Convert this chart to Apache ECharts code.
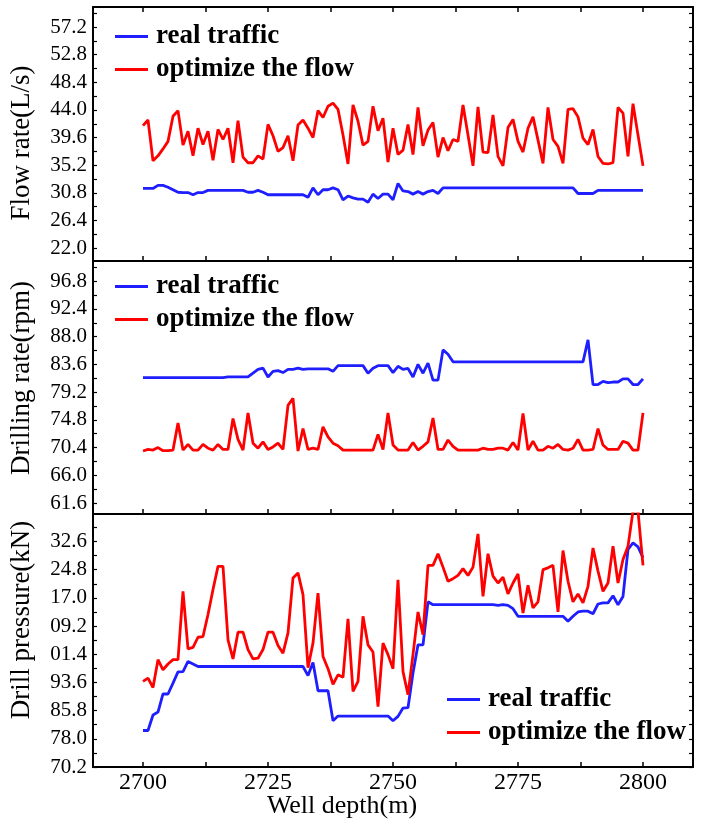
<!DOCTYPE html>
<html><head><meta charset="utf-8">
<script src="https://cdn.jsdelivr.net/npm/echarts@6/dist/echarts.min.js"></script>
<style>html,body{margin:0;padding:0;background:#fff}#c{width:704px;height:825px}</style>
</head><body><div id="c"></div>
<script>
// ---- data ----
const depthStart = 2700, depthEnd = 2800;
const depth = [];
for (let d = depthStart; d <= depthEnd; d++) depth.push(d);

const seriesNames = ['real traffic', 'optimize the flow'];

const flowReal = [31.5,31.5,31.5,32.0,32.0,31.7,31.3,30.9,30.85,30.85,
 30.5,30.85,30.85,31.2,31.2,31.2,31.2,31.2,31.2,31.2,
 31.2,30.9,30.9,31.2,30.9,30.5,30.5,30.5,30.5,30.5,
 30.5,30.5,30.5,30.1,31.6,30.5,31.3,31.3,31.6,31.3,
 29.7,30.3,30.0,29.8,29.8,29.3,30.6,29.9,30.6,30.6,
 29.7,32.3,31.1,31.0,30.6,31.0,30.6,31.0,31.2,30.7,
 31.6,31.6,31.6,31.6,31.6,31.6,31.6,31.6,31.6,31.6,
 31.6,31.6,31.6,31.6,31.6,31.6,31.6,31.6,31.6,31.6,
 31.6,31.6,31.6,31.6,31.6,31.6,31.6,30.7,30.7,30.7,
 30.7,31.2,31.2,31.2,31.2,31.2,31.2,31.2,31.2,31.2,
 31.2];
const flowOpt = [41.5,42.4,35.9,36.7,37.8,39.0,43.0,43.9,38.4,40.6,
 36.7,41.1,38.5,40.6,36.0,40.9,39.3,41.1,35.6,42.3,
 36.5,35.6,35.6,36.7,36.2,41.7,39.9,37.4,38.0,39.9,
 35.9,41.6,42.4,41.1,39.6,43.9,42.8,44.6,45.1,44.1,
 40.0,35.4,44.8,42.2,38.4,39.0,44.6,40.7,42.7,35.7,
 41.1,36.9,37.6,41.7,36.9,44.4,38.3,40.8,42.0,36.5,
 39.6,37.5,39.3,39.0,44.8,40.0,35.1,44.5,37.3,37.2,
 43.2,36.6,35.1,41.2,42.5,39.0,37.3,41.1,42.9,39.2,
 35.5,44.4,39.3,38.2,35.5,44.1,44.2,42.9,39.5,38.5,
 40.9,36.6,35.5,35.4,35.6,44.4,43.5,36.6,45.0,40.0,
 35.1];

const rateReal = [81.5,81.5,81.5,81.5,81.5,81.5,81.5,81.5,81.5,81.5,
 81.5,81.5,81.5,81.5,81.5,81.5,81.5,81.6,81.6,81.6,
 81.6,81.6,82.2,82.8,83.0,81.6,82.5,82.6,82.3,82.8,
 82.8,83.0,82.8,82.9,82.9,82.9,82.9,82.9,82.5,83.4,
 83.4,83.4,83.4,83.4,83.4,82.2,83.0,83.4,83.4,83.4,
 82.3,83.3,82.8,82.95,81.6,83.6,82.2,83.8,81.1,81.1,
 85.9,85.2,84.0,84.0,84.0,84.0,84.0,84.0,84.0,84.0,
 84.0,84.0,84.0,84.0,84.0,84.0,84.0,84.0,84.0,84.0,
 84.0,84.0,84.0,84.0,84.0,84.0,84.0,84.0,84.0,87.5,
 80.4,80.4,80.9,80.7,80.8,80.8,81.3,81.3,80.4,80.4,
 81.3];
const rateOpt = [69.85,70.1,70.0,70.4,69.9,69.9,70.0,74.3,70.0,70.9,
 70.0,70.0,70.9,70.3,70.0,70.9,70.1,70.1,75.0,71.7,
 70.0,75.9,71.1,70.3,71.3,70.1,70.5,71.1,70.1,77.1,
 78.2,69.85,73.4,70.1,70.3,70.1,73.7,72.1,71.1,70.7,
 70.0,70.0,70.0,70.0,70.0,70.0,70.0,72.5,70.1,75.9,
 70.8,70.0,70.0,70.0,71.2,70.0,70.6,71.3,75.1,70.1,
 70.1,71.6,70.6,70.0,70.0,70.0,70.0,70.0,70.3,70.1,
 70.1,70.3,70.3,70.0,71.2,70.0,75.8,70.0,71.4,70.0,
 70.0,70.6,70.3,70.9,70.1,70.0,70.3,71.7,70.0,70.0,
 70.1,73.4,70.8,70.1,70.1,70.1,71.4,71.1,70.0,70.0,
 75.9];

const pressReal = [80.3,80.3,84.6,85.4,90.4,90.4,93.4,96.5,96.6,99.4,
 98.7,98.0,98.0,98.0,98.0,98.0,98.0,98.0,98.0,98.0,
 98.0,98.0,98.0,98.0,98.0,98.0,98.0,98.0,98.0,98.0,
 98.0,98.0,98.0,95.5,99.1,91.3,91.3,91.3,83.0,84.3,
 84.3,84.3,84.3,84.3,84.3,84.3,84.3,84.3,84.3,84.3,
 83.0,84.2,86.5,86.6,96.2,104.0,104.0,115.9,115.1,115.1,
 115.1,115.1,115.1,115.1,115.1,115.1,115.1,115.1,115.1,115.1,
 115.1,114.9,115.1,114.9,114.0,111.9,111.9,111.9,111.9,111.9,
 111.9,111.9,111.9,111.9,111.9,110.5,111.9,113.1,113.3,113.3,
 112.6,115.3,115.6,115.6,117.6,115.1,117.4,130.4,132.2,131.1,
 128.1];
const pressOpt = [93.9,94.8,92.2,99.9,97.1,98.7,99.9,99.9,118.8,102.9,
 103.3,106.1,106.3,112.4,119.3,125.7,125.7,105.4,100.1,107.5,
 107.5,102.7,100.1,100.3,102.7,107.5,107.5,103.8,101.7,107.3,
 122.5,123.9,117.9,97.7,104.5,118.3,100.8,97.4,93.1,95.7,
 95.0,111.2,91.1,93.9,111.9,104.0,102.0,86.9,104.5,101.3,
 97.4,122.0,96.6,90.2,101.3,113.1,106.8,126.0,126.0,129.2,
 125.5,121.6,122.3,123.2,125.1,123.2,125.5,134.7,117.4,129.2,
 123.0,121.1,122.7,118.1,121.1,123.6,112.8,120.5,114.2,115.9,
 124.8,125.3,126.0,113.1,130.1,121.6,115.9,118.1,115.6,120.2,
 130.8,124.4,118.8,121.1,131.3,121.1,127.6,131.3,141.0,141.0,
 126.0];

// tick values / labels
const depthTicks = [2700, 2725, 2750, 2775, 2800];
const depthMinorTicks = [2700, 2712.5, 2725, 2737.5, 2750, 2762.5, 2775, 2787.5, 2800];
const flowTicks = [22.0, 26.4, 30.8, 35.2, 39.6, 44.0, 48.4, 52.8, 57.2];
const flowTickMarks = [22.0, 24.2, 26.4, 28.6, 30.8, 33.0, 35.2, 37.4, 39.6, 41.8, 44.0, 46.2, 48.4, 50.6, 52.8, 55.0, 57.2, 59.4];
const rateTicks = [61.6, 66.0, 70.4, 74.8, 79.2, 83.6, 88.0, 92.4, 96.8];
const rateTickMarks = [61.6, 63.8, 66.0, 68.2, 70.4, 72.6, 74.8, 77.0, 79.2, 81.4, 83.6, 85.8, 88.0, 90.2, 92.4, 94.6, 96.8, 99.0];
const pressTicks = [70.2, 78.0, 85.8, 93.6, 101.4, 109.2, 117.0, 124.8, 132.6];
const pressTickLabels = ['70.2', '78.0', '85.8', '93.6', '01.4', '09.2', '17.0', '24.8', '32.6'];
const pressTickMarks = [70.2, 74.1, 78.0, 81.9, 85.8, 89.7, 93.6, 97.5, 101.4, 105.3, 109.2, 113.1, 117.0, 120.9, 124.8, 128.7, 132.6, 136.5];

const yTitles = ['Flow rate(L/s)', 'Drilling rate(rpm)', 'Drill pressure(kN)'];
const xTitle = 'Well depth(m)';

// ---- chart ----
const BLUE = '#1e1eff', RED = '#ff0000';
const FONT = 'Liberation Serif';
const grids = [
  {left: 93, width: 600, top: 7, height: 254},
  {left: 93, width: 600, top: 261, height: 253},
  {left: 93, width: 600, top: 514, height: 253}
];
const yRanges = [[19.95, 60.4], [59.86, 100.0], [70.2, 140.2]];
const yLabelVals = [flowTicks, rateTicks, pressTicks];
const yTickVals = [flowTickMarks, rateTickMarks, pressTickMarks];

const axisLine = {show: true, onZero: false, lineStyle: {color: '#000', width: 2}};
const xAxes = [], yAxes = [];
for (let g = 0; g < 3; g++) {
  xAxes.push({
    type: 'value', gridIndex: g, position: 'bottom', min: 2690, max: 2810,
    axisLine, splitLine: {show: false},
    axisTick: {show: true, inside: true, length: 5, lineStyle: {color: '#000', width: 1.5}, customValues: depthMinorTicks},
    axisLabel: {show: g === 2, customValues: depthTicks, margin: 4, color: '#000', fontFamily: FONT, fontSize: 24,
      formatter: v => String(v)}
  });
  xAxes.push({
    type: 'value', gridIndex: g, position: 'top', min: 2690, max: 2810,
    axisLine, splitLine: {show: false},
    axisTick: {show: g === 0, inside: true, length: 5, lineStyle: {color: '#000', width: 1.5}, customValues: depthMinorTicks},
    axisLabel: {show: false}
  });
  const lv = yLabelVals[g];
  yAxes.push({
    type: 'value', gridIndex: g, position: 'left', min: yRanges[g][0], max: yRanges[g][1],
    axisLine, splitLine: {show: false},
    axisTick: {show: true, inside: true, length: 4, lineStyle: {color: '#000', width: 1.2}, customValues: yTickVals[g]},
    axisLabel: {show: true, customValues: lv, margin: 6, color: '#000', fontFamily: FONT, fontSize: 21,
      formatter: v => {
        if (g === 2) {
          const k = pressTicks.findIndex(t => Math.abs(t - v) < 1e-6);
          return k >= 0 ? pressTickLabels[k] : '';
        }
        return Number(v).toFixed(1);
      }}
  });
  yAxes.push({
    type: 'value', gridIndex: g, position: 'right', min: yRanges[g][0], max: yRanges[g][1],
    axisLine, splitLine: {show: false},
    axisTick: {show: true, inside: true, length: 4, lineStyle: {color: '#000', width: 1.2}, customValues: yTickVals[g]},
    axisLabel: {show: false}
  });
}

const allData = [[flowReal, flowOpt], [rateReal, rateOpt], [pressReal, pressOpt]];
const series = [];
for (let g = 0; g < 3; g++) {
  [0, 1].forEach(k => {
    series.push({
      name: seriesNames[k], type: 'line', xAxisIndex: g * 2, yAxisIndex: g * 2,
      data: depth.map((d, i) => [d, allData[g][k][i]]),
      symbol: 'none', clip: true, silent: true, animation: false,
      lineStyle: {color: k === 0 ? BLUE : RED, width: 2.8},
      itemStyle: {color: k === 0 ? BLUE : RED},
      z: 2 + k
    });
  });
}

const legendBase = {
  orient: 'vertical', icon: 'rect', itemWidth: 33, itemHeight: 3, itemGap: 6,
  selectedMode: false,
  textStyle: {fontFamily: FONT, fontWeight: 'bold', fontSize: 27, color: '#000', padding: [0, 0, 0, 3]},
  data: seriesNames
};
const legends = [
  Object.assign({}, legendBase, {left: 110, top: 18}),
  Object.assign({}, legendBase, {left: 110, top: 268}),
  Object.assign({}, legendBase, {left: 442, top: 681})
];

const titlePos = [[22, 143], [22, 378], [22, 620]];
const graphic = yTitles.map((t, g) => ({
  type: 'text', x: titlePos[g][0], y: titlePos[g][1], rotation: Math.PI / 2,
  style: {text: t, fontFamily: FONT, fontSize: 27, fill: '#000', align: 'center', verticalAlign: 'middle'}
}));
graphic.push({
  type: 'text', x: 342, y: 806,
  style: {text: xTitle, fontFamily: FONT, fontSize: 26, fill: '#000', align: 'center', verticalAlign: 'middle'}
});

const chart = echarts.init(document.getElementById('c'), null, {renderer: 'canvas'});
chart.setOption({
  backgroundColor: '#fff',
  animation: false,
  grid: grids,
  xAxis: xAxes,
  yAxis: yAxes,
  legend: legends,
  graphic,
  series
});
</script></body></html>
